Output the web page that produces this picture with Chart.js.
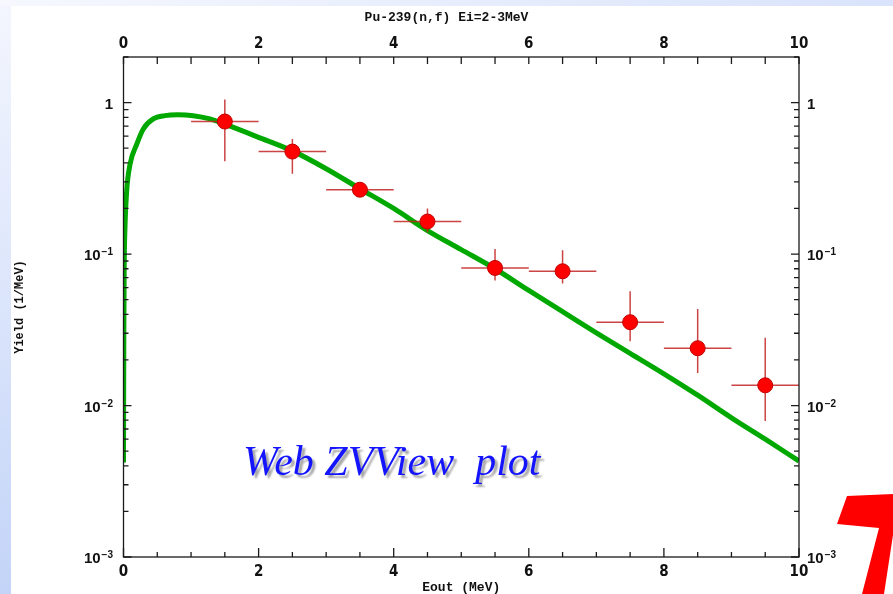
<!DOCTYPE html>
<html><head><meta charset="utf-8">
<script src="https://cdn.jsdelivr.net/npm/chart.js@4.4.0/dist/chart.umd.min.js"></script>
<style>
html,body{margin:0;padding:0;width:893px;height:594px;overflow:hidden;}
body{position:relative;background:#fff;}
#leftStrip{position:absolute;left:0;top:0;width:11px;height:594px;background:linear-gradient(to bottom,#f4f6fe,#c3d4f8);}
#topStrip{position:absolute;left:0;top:0;width:893px;height:6px;background:linear-gradient(to right,#f6f8fe,#d9e3fb);}
#seven{position:absolute;left:0;top:0;width:893px;height:594px;background:#ff0000;clip-path:polygon(847px 496px,893px 494px,893px 535px,884px 594px,862px 594px,879px 528px,837px 524px);}
#wrap{position:absolute;left:0;top:0;width:893px;height:594px;}
</style></head>
<body>
<div id="leftStrip"></div><div id="topStrip"></div><div id="seven"></div>
<div id="wrap"><canvas id="c" width="893" height="594"></canvas></div>
<script>
// ---- data ----
const curveX = [0, 0.005, 0.01, 0.02, 0.047, 0.096, 0.195, 0.293, 0.44, 0.615, 0.8, 1.03, 1.28, 1.5, 2.0, 2.5, 3.0, 3.5, 4.0, 4.5, 5.0, 5.5, 6.0, 6.5, 7.0, 7.5, 8.0, 8.5, 9.0, 9.5, 10.0];
const curveY = [0.0042, 0.03, 0.08, 0.14, 0.26, 0.39, 0.53, 0.67, 0.78, 0.82, 0.83, 0.82, 0.78, 0.72, 0.59, 0.48, 0.366, 0.27, 0.20, 0.143, 0.107, 0.080, 0.0575, 0.0417, 0.0302, 0.0221, 0.0162, 0.0117, 0.0083, 0.0060, 0.0043];
const ptX = [1.5, 2.5, 3.5, 4.5, 5.5, 6.5, 7.5, 8.5, 9.5];
const ptY = [0.75, 0.475, 0.266, 0.164, 0.081, 0.077, 0.0355, 0.0239, 0.0136];
const ptYLow = [0.41, 0.339, 0.24, 0.139, 0.067, 0.064, 0.0266, 0.0164, 0.0079];
const ptYHigh = [1.05, 0.576, 0.29, 0.2, 0.108, 0.106, 0.0568, 0.0434, 0.028];
const ptXLow = [1, 2, 3, 4, 5, 6, 7, 8, 9];
const ptXHigh = [2, 3, 4, 5, 6, 7, 8, 9, 10];
const xTickValues = [0, 2, 4, 6, 8, 10];
const xTickLabels = ['0', '2', '4', '6', '8', '10'];
const yTickValues = [0.001, 0.01, 0.1, 1];
const yTickBase = ['10', '10', '10', '1'];
const yTickExp = ['\u22123', '\u22122', '\u22121', ''];
const titleText = 'Pu-239(n,f) Ei=2-3MeV';
const xTitle = 'Eout (MeV)';
const yTitle = 'Yield (1/MeV)';
const watermark = 'Web ZVView  plot';

const narrow = "'Liberation Sans Narrow','DejaVu Sans Condensed','Liberation Sans',sans-serif";
const mono = "'Liberation Mono','DejaVu Sans Mono',monospace";

const decor = {
  id: 'decor',
  beforeDatasetsDraw(chart) {
    const ctx = chart.ctx;
    ctx.save();
    ctx.font = "italic 42px 'Liberation Serif','DejaVu Serif',serif";
    ctx.fillStyle = '#1414ff';
    ctx.shadowColor = 'rgba(0,0,0,0.35)';
    ctx.shadowOffsetX = 3; ctx.shadowOffsetY = 3; ctx.shadowBlur = 2;
    ctx.textBaseline = 'alphabetic';
    ctx.fillText(watermark, 243, 475);
    ctx.restore();
  },
  afterDatasetDraw(chart, args) {
    if (args.index !== 0) return;
    const ctx = chart.ctx, xs = chart.scales.x, ys = chart.scales.y;
    ctx.save();
    ctx.strokeStyle = 'rgba(195,35,35,0.85)';
    ctx.lineWidth = 1.5;
    for (let i = 0; i < ptX.length; i++) {
      const px = xs.getPixelForValue(ptX[i]), py = ys.getPixelForValue(ptY[i]);
      ctx.beginPath();
      ctx.moveTo(xs.getPixelForValue(ptXLow[i]), py);
      ctx.lineTo(xs.getPixelForValue(ptXHigh[i]), py);
      ctx.moveTo(px, ys.getPixelForValue(ptYLow[i]));
      ctx.lineTo(px, ys.getPixelForValue(ptYHigh[i]));
      ctx.stroke();
    }
    ctx.restore();
  },
  afterDraw(chart) {
    const ctx = chart.ctx, xs = chart.scales.x, ys = chart.scales.y;
    const a = chart.chartArea;
    ctx.save();
    ctx.strokeStyle = '#1a1a1a';
    ctx.lineWidth = 1.3;
    ctx.strokeRect(a.left, a.top, a.right - a.left, a.bottom - a.top);
    ctx.beginPath();
    for (let i = 0; i <= 20; i++) {
      const px = xs.getPixelForValue(i * 0.5);
      const lb = (i % 4 === 0) ? 9 : 5;
      ctx.moveTo(px, a.bottom); ctx.lineTo(px, a.bottom - lb);
      ctx.moveTo(px, a.top); ctx.lineTo(px, a.top + 7);
    }
    for (let e = -3; e <= 0; e++) {
      for (let m = 1; m <= 9; m++) {
        const v = m * Math.pow(10, e);
        if (v > ys.max + 1e-9) break;
        const py = ys.getPixelForValue(v);
        const len = m === 1 ? 8 : 5;
        ctx.moveTo(a.left, py); ctx.lineTo(a.left + len, py);
        ctx.moveTo(a.right, py); ctx.lineTo(a.right - len, py);
      }
    }
    ctx.stroke();
    // y tick labels (both sides)
    ctx.fillStyle = '#111';
    ctx.textBaseline = 'alphabetic';
    const baseFont = "bold 15px 'Liberation Sans',Arial,sans-serif";
    const expFont = "bold 10px 'Liberation Sans',Arial,sans-serif";
    for (let i = 0; i < yTickValues.length; i++) {
      const py = ys.getPixelForValue(yTickValues[i]);
      ctx.font = expFont;
      const ew = yTickExp[i] ? ctx.measureText(yTickExp[i]).width + 1 : 0;
      ctx.font = baseFont;
      const bw = ctx.measureText(yTickBase[i]).width;
      let x0 = 113 - ew - bw;
      ctx.font = baseFont; ctx.fillText(yTickBase[i], x0, py + 6);
      if (ew) { ctx.font = expFont; ctx.fillText(yTickExp[i], x0 + bw + 1, py + 1); }
      x0 = a.right + 8;
      ctx.font = baseFont; ctx.fillText(yTickBase[i], x0, py + 6);
      if (ew) { ctx.font = expFont; ctx.fillText(yTickExp[i], x0 + bw + 1, py + 1); }
    }
    ctx.restore();
  }
};

const xTickOpts = (pad) => ({
  callback: (v, i) => xTickLabels[i],
  font: { family: narrow, size: 15, weight: 'bold' },
  color: '#111', padding: pad, maxRotation: 0, autoSkip: false
});

new Chart(document.getElementById('c'), {
  type: 'scatter',
  data: {
    datasets: [
      {
        type: 'line',
        data: curveX.map((x, i) => ({ x: x, y: curveY[i] })),
        borderColor: 'rgb(0,168,0)', borderWidth: 5, pointRadius: 0,
        cubicInterpolationMode: 'monotone', fill: false, order: 2
      },
      {
        type: 'scatter',
        data: ptX.map((x, i) => ({ x: x, y: ptY[i] })),
        backgroundColor: '#ff0000', borderColor: '#c00000', borderWidth: 1,
        pointRadius: 7.5, order: 1
      }
    ]
  },
  options: {
    responsive: false, animation: false,
    layout: { padding: 0 },
    plugins: {
      legend: { display: false }, tooltip: { enabled: false },
      title: { display: true, text: titleText, color: '#111',
        font: { family: mono, size: 13, weight: 'bold' }, padding: { top: 10, bottom: 4 } }
    },
    scales: {
      x: {
        type: 'linear', position: 'bottom', min: 0, max: 10,
        afterBuildTicks: s => { s.ticks = xTickValues.map(v => ({ value: v })); },
        ticks: xTickOpts(6),
        grid: { display: false, drawTicks: false }, border: { display: false },
        title: { display: true, text: xTitle, color: '#111',
          font: { family: mono, size: 13, weight: 'bold', lineHeight: 1 }, padding: 0 },
        afterFit: s => { s.height = 37; }
      },
      x2: {
        type: 'linear', axis: 'x', position: 'top', min: 0, max: 10,
        afterBuildTicks: s => { s.ticks = xTickValues.map(v => ({ value: v })); },
        ticks: xTickOpts(4),
        grid: { display: false, drawTicks: false }, border: { display: false },
        afterFit: s => { s.height = 27.4; }
      },
      y: {
        type: 'logarithmic', position: 'left', min: 0.001, max: 2,
        ticks: { display: false },
        grid: { display: false, drawTicks: false }, border: { display: false },
        title: { display: true, text: yTitle, color: '#111',
          font: { family: mono, size: 12, weight: 'bold' }, padding: { top: 13, bottom: 0 } },
        afterFit: s => { s.width = 123.5; }
      },
      y2: {
        type: 'logarithmic', axis: 'y', position: 'right', min: 0.001, max: 2,
        ticks: { display: false },
        grid: { display: false, drawTicks: false }, border: { display: false },
        afterFit: s => { s.width = 94; }
      }
    }
  },
  plugins: [decor]
});
</script>
</body></html>
